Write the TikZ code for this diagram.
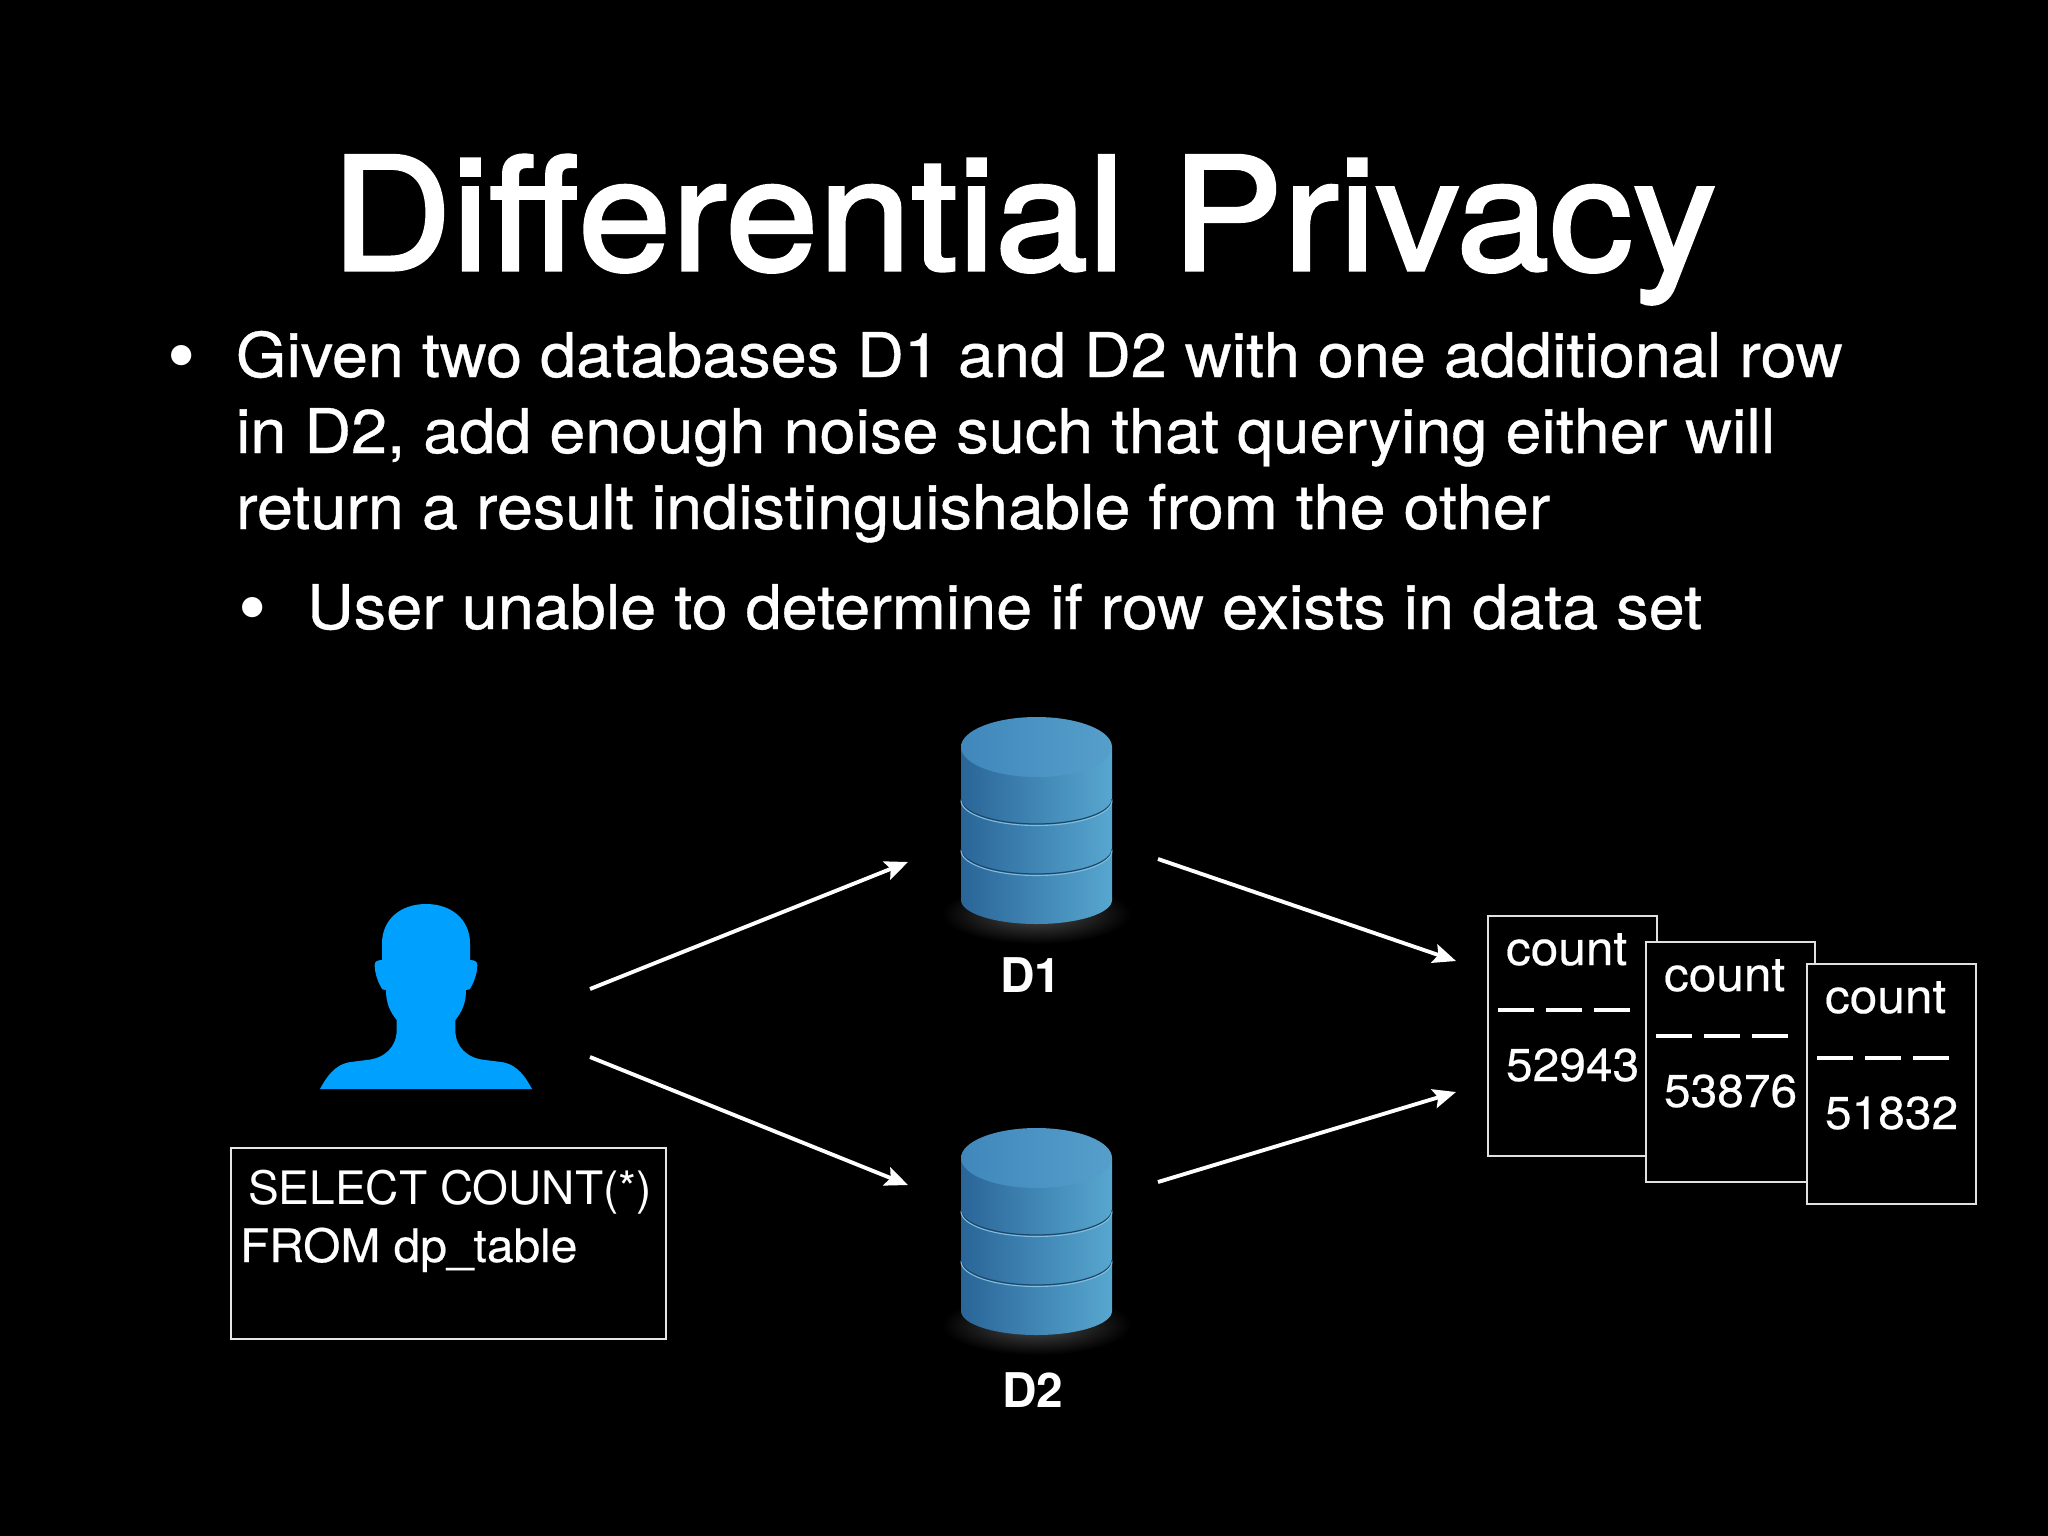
\documentclass[tikz,border=0pt]{standalone}
\usepackage{fontspec}
\setmainfont{TeX Gyre Heros}
\newfontfamily\ttlfont{TeX Gyre Heros}[FakeBold=2,FakeStretch=1.064]
\newfontfamily\bodyfont{TeX Gyre Heros}[FakeBold=0.6,FakeStretch=1.05]
\newfontfamily\smallfont{TeX Gyre Heros}[FakeBold=0.4,FakeStretch=1.04]
\usetikzlibrary{arrows.meta}
\definecolor{sideL}{HTML}{2A6598}
\definecolor{sideR}{HTML}{57A7D0}
\definecolor{topL}{HTML}{4087BB}
\definecolor{topR}{HTML}{569FCB}
\definecolor{userblue}{HTML}{00A0FF}
\tikzset{
  x=0.01cm,y=-0.01cm,
  txt/.style={anchor=base west,inner sep=0pt,outer sep=0pt,text=white},
  title/.style={txt,font=\ttlfont\fontsize{44.7}{50}\selectfont},
  body/.style={txt,font=\bodyfont\fontsize{17.55}{20}\selectfont},
  bulletmark/.style={txt,font=\fontsize{23}{26}\selectfont},
  small/.style={txt,font=\smallfont\fontsize{13.1}{16}\selectfont},
  smallb/.style={txt,font=\smallfont\fontsize{13.55}{16}\selectfont},
  queryline/.style={txt,font=\fontsize{13.1}{16}\selectfont},
  dblabel/.style={txt,font=\fontsize{13.6}{16}\selectfont\bfseries},
  paper/.style={draw=white!88!black,line width=0.55pt,fill=black,anchor=north west,inner sep=0pt,minimum width=1.69cm,minimum height=2.40cm},
  query/.style={draw=white!90!black,line width=0.55pt,anchor=north west,inner sep=0pt,minimum width=4.35cm,minimum height=1.91cm},
  flow/.style={draw=white,line width=1.1pt,-{Stealth[length=6.5pt,width=5.5pt,inset=1.2pt]}},
  dashline/.style={draw=white,line width=0.95pt},
}
\newcommand{\lowarc}[2]{(961,#1) .. controls (961,{#1+.552*#2}) and (994.8,{#1+#2}) .. (1036.5,{#1+#2}) .. controls (1078.2,{#1+#2}) and (1112,{#1+.552*#2}) .. (1112,#1)}
\newcommand{\drawdb}[1]{%
 \begin{scope}[shift={(0,#1)}]
  \shade[inner color=white!30!black,outer color=black] (1036.5,914) ellipse [x radius=95,y radius=30];
  \shade[left color=sideL,right color=sideR] (961,747) -- (961,900) .. controls (961,913.2) and (994.8,924) .. (1036.5,924) .. controls (1078.2,924) and (1112,913.2) .. (1112,900) -- (1112,747) -- cycle;
  \draw[color=sideL!70!black,line width=0.35pt] \lowarc{799}{25};
  \draw[color=sideR!75!white,line width=0.3pt] \lowarc{800.5}{25};
  \draw[color=sideL!70!black,line width=0.35pt] \lowarc{849}{25};
  \draw[color=sideR!75!white,line width=0.3pt] \lowarc{850.5}{25};
  \shade[left color=topL,right color=topR] (1036.5,747) ellipse [x radius=75.5,y radius=30];
 \end{scope}}
\begin{document}
\begin{tikzpicture}
\useasboundingbox[fill=black] (0,0) rectangle (2048,1536);
% Title and bullets
\node[title] (ttl) at (331,270) {Differential Privacy};
\node[bulletmark] (b1) at (167,383) {•};
\node[body] (l1) at (236,377) {Given two databases D1 and D2 with one additional row};
\node[body] (l2) at (236,453) {in D2, add enough noise such that querying either will};
\node[body] (l3) at (236,529) {return a result indistinguishable from the other};
\node[bulletmark] (b2) at (238,635) {•};
\node[body] (l4) at (307,629) {User unable to determine if row exists in data set};
% Person
\begin{scope}[shift={(300,880)},xscale=1/3,yscale=1/3]
\fill[userblue] (60,627) .. controls (90,570) and (120,548) .. (160,545) -- (200,540)
 .. controls (255,535) and (290,500) .. (290,450) -- (290,420)
 .. controls (270,395) and (258,370) .. (258,330) -- (247,328)
 .. controls (235,310) and (224,280) .. (224,255) .. controls (224,245) and (232,240) .. (246,240)
 -- (246,190) .. controls (246,120) and (300,72) .. (378,72)
 .. controls (456,72) and (510,120) .. (510,190) -- (510,240)
 .. controls (524,240) and (532,245) .. (532,255) .. controls (532,280) and (521,310) .. (509,328)
 -- (498,330) .. controls (498,370) and (486,395) .. (466,420) -- (466,450)
 .. controls (466,500) and (501,535) .. (556,540) -- (596,545)
 .. controls (636,548) and (666,570) .. (696,627) -- cycle;
\end{scope}
% Query box
\node[query] (qbox) at (230,1147) {};
\node[queryline] (q1) at (248,1204) {SELECT COUNT(*)};
\node[small] (q2) at (240,1262) {FROM dp\_table};
% Databases
\drawdb{0}
\drawdb{411}
\node[dblabel] (d1) at (1000,992) {D1};
\node[dblabel] (d2) at (1002,1407) {D2};
% Result papers
\foreach \nm/\dx/\dy/\val in {p1/0/0/52943,p2/158/26/53876,p3/319/48/51832}{
 \begin{scope}[shift={(\dx,\dy)}]
  \node[paper] (\nm) at (1487,915) {};
  \node[smallb] (\nm c) at (1506,965) {count};
  \node[small] (\nm v) at (1506,1081) {\val};
  \draw[dashline] (1498,1010) -- (1534,1010) (1546,1010) -- (1582,1010) (1594,1010) -- (1630,1010);
 \end{scope}}
% Connectors
\coordinate (u1) at (590,989);
\coordinate (u2) at (590,1057);
\coordinate (d1in) at (908,862);
\coordinate (d2in) at (908,1185);
\coordinate (d1out) at (1158,859);
\coordinate (d2out) at (1158,1182);
\coordinate (r1) at (1456,961);
\coordinate (r2) at (1456,1092);
\draw[flow] (u1) -- (d1in);
\draw[flow] (u2) -- (d2in);
\draw[flow] (d1out) -- (r1);
\draw[flow] (d2out) -- (r2);
\end{tikzpicture}
\end{document}
